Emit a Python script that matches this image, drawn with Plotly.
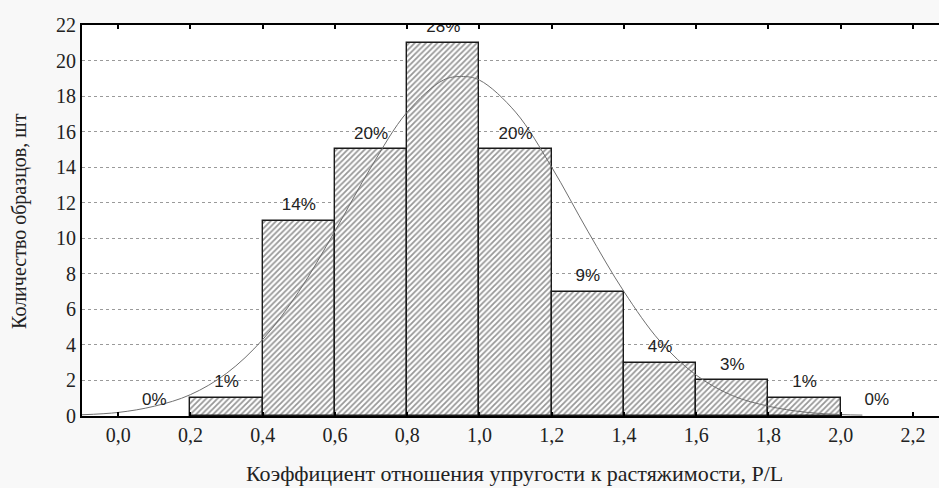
import plotly.graph_objects as go

# ---- data ----
bin_left = [0.2, 0.4, 0.6, 0.8, 1.0, 1.2, 1.4, 1.6, 1.8]
bin_width = 0.2
counts = [1, 11, 15, 21, 15, 7, 3, 2, 1]

label_x = [0.1, 0.3, 0.5, 0.7, 0.9, 1.1, 1.3, 1.5, 1.7, 1.9, 2.1]
label_y = [0, 1, 11, 15, 21, 15, 7, 3, 2, 1, 0]
label_text = ["0%", "1%", "14%", "20%", "28%", "20%", "9%", "4%", "3%", "1%", "0%"]

curve_x = [-0.1, 0.0, 0.1, 0.2, 0.3, 0.4, 0.5, 0.6, 0.7, 0.8, 0.9, 0.95,
           1.0, 1.1, 1.2, 1.3, 1.4, 1.5, 1.6, 1.7, 1.8, 1.9, 2.0, 2.06]
curve_y = [0.07, 0.2, 0.55, 1.2, 2.4, 4.3, 7.0, 10.4, 14.0, 17.1, 18.9, 19.1,
           18.9, 17.1, 14.0, 10.4, 7.0, 4.2, 2.3, 1.15, 0.55, 0.22, 0.08, 0.05]

x_ticks = [0.0, 0.2, 0.4, 0.6, 0.8, 1.0, 1.2, 1.4, 1.6, 1.8, 2.0, 2.2]
x_ticktext = ["0,0", "0,2", "0,4", "0,6", "0,8", "1,0", "1,2", "1,4", "1,6", "1,8", "2,0", "2,2"]
y_ticks = [0, 2, 4, 6, 8, 10, 12, 14, 16, 18, 20, 22]

x_title = "Коэффициент отношения упругости к растяжимости, P/L"
y_title = "Количество образцов, шт"

centers = [l + bin_width / 2 for l in bin_left]

serif = "Liberation Serif"
sans = "Liberation Sans"

fig = go.Figure()
fig.add_trace(go.Bar(
    x=centers, y=counts, width=bin_width,
    marker=dict(color="white",
                line=dict(color="#1a1a1a", width=1.4),
                pattern=dict(shape="/", fgcolor="#303030", bgcolor="white",
                             size=4, solidity=0.45)),
    showlegend=False, hoverinfo="skip"))
fig.add_trace(go.Scatter(
    x=curve_x, y=curve_y, mode="lines",
    line=dict(color="#707070", width=1, shape="spline"),
    showlegend=False, hoverinfo="skip"))
fig.add_trace(go.Scatter(
    x=label_x, y=label_y, mode="markers+text", text=label_text,
    marker=dict(size=9, color="rgba(0,0,0,0)"),
    textposition="top center", cliponaxis=True,
    textfont=dict(family=sans, size=17, color="#222222"),
    showlegend=False, hoverinfo="skip"))

fig.update_layout(
    width=939, height=488,
    margin=dict(l=82, r=0, t=25, b=72),
    paper_bgcolor="#f8f8f8", plot_bgcolor="white",
    bargap=0,
    xaxis=dict(range=[-0.1, 2.272], tickvals=x_ticks, ticktext=x_ticktext,
               ticks="inside", ticklen=4, tickwidth=1.5, tickcolor="black",
               mirror="ticks", showline=True, linecolor="black", linewidth=2,
               showgrid=False, zeroline=False,
               tickfont=dict(family=serif, size=20, color="#222222")),
    yaxis=dict(range=[0, 22], tickvals=y_ticks,
               ticks="", showline=True, linecolor="black", linewidth=2,
               mirror=False, showgrid=True, gridcolor="#9a9a9a", griddash="dot",
               gridwidth=1, zeroline=False,
               tickfont=dict(family=serif, size=20, color="#222222")),
    annotations=[
        dict(text=x_title, xref="paper", yref="paper", x=0.505, y=-0.148,
             xanchor="center", yanchor="middle", showarrow=False,
             font=dict(family=serif, size=22, color="#222222")),
        dict(text=y_title, xref="paper", yref="paper", x=-0.073, y=0.5,
             xanchor="center", yanchor="middle", showarrow=False, textangle=-90,
             font=dict(family=serif, size=20, color="#222222")),
    ],
)

fig.write_html("out.html", config={"displayModeBar": False},
               post_script="document.body.style.margin='0px';")
